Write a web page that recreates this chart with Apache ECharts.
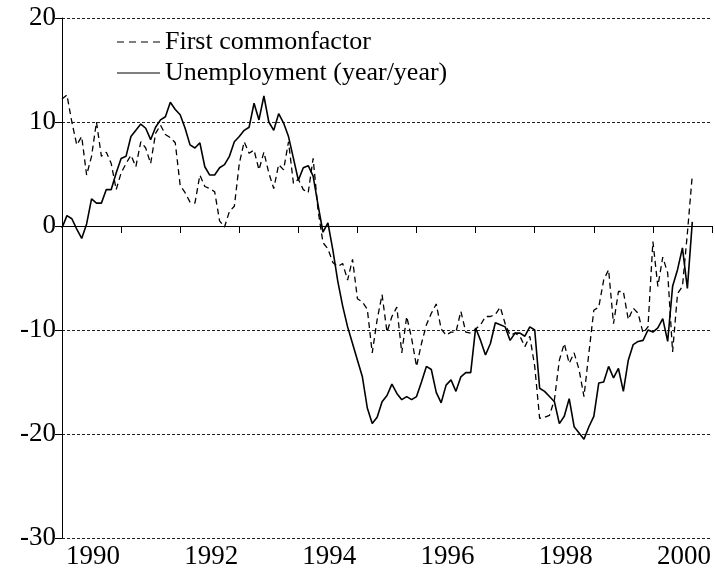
<!DOCTYPE html>
<html>
<head>
<meta charset="utf-8">
<script src="https://cdn.jsdelivr.net/npm/echarts@6/dist/echarts.min.js"></script>
<style>
html,body{margin:0;padding:0;background:#fff;}
#chart{width:715px;height:581px;}
</style>
</head>
<body>
<div id="chart"></div>
<script>
// Monthly observations starting January 1990
var startYear = 1990;
var yTicks = [-30, -20, -10, 0, 10, 20];
var xLabelYears = [1990, 1992, 1994, 1996, 1998, 2000];

var firstCommonFactor = [
  12.2, 12.6, 10.0, 7.8, 8.6, 4.9, 6.7, 10.0, 6.7, 7.1, 6.0, 3.5,
  5.1, 6.0, 6.8, 5.7, 8.1, 7.5, 6.0, 8.9, 9.7, 8.8, 8.5, 8.0,
  3.9, 3.2, 2.3, 2.2, 4.9, 3.8, 3.6, 3.3, 0.5, -0.1, 1.4, 1.9,
  6.0, 8.1, 7.0, 7.3, 5.4, 7.1, 5.1, 3.6, 5.9, 5.4, 8.1, 4.1,
  4.5, 3.5, 3.2, 6.5, 1.5, -1.6, -2.2, -3.5, -3.9, -3.6, -5.2, -3.2,
  -7.0, -7.3, -8.0, -12.2, -9.0, -6.6, -10.2, -8.7, -7.8, -12.2, -8.7, -10.8,
  -13.5, -11.3, -9.5, -8.4, -7.5, -9.9, -10.5, -10.2, -10.2, -8.2, -10.2, -10.3,
  -9.9, -9.5, -8.7, -8.7, -8.5, -7.8, -9.4, -10.5, -10.3, -10.6, -11.6, -10.6,
  -13.5, -18.5, -18.4, -18.2, -16.7, -12.9, -11.3, -13.2, -12.2, -13.8, -16.4, -12.2,
  -8.1, -7.8, -5.2, -4.2, -9.4, -6.3, -6.3, -9.0, -7.9, -8.4, -10.3, -9.7,
  -1.5, -5.8, -3.0, -4.5, -12.1, -6.5, -5.8, -0.7, 4.9
];

var unemploymentYoY = [
  -0.2, 1.0, 0.7, -0.3, -1.2, 0.2, 2.6, 2.2, 2.2, 3.5, 3.5, 5.1,
  6.5, 6.7, 8.6, 9.2, 9.8, 9.4, 8.3, 9.5, 10.2, 10.5, 11.9, 11.2,
  10.7, 9.4, 7.8, 7.5, 8.0, 5.7, 4.9, 4.9, 5.6, 5.9, 6.7, 8.1,
  8.6, 9.2, 9.5, 11.8, 10.2, 12.5, 10.0, 9.2, 10.8, 9.9, 8.6, 6.5,
  4.4, 5.6, 5.8, 4.8, 2.0, -0.6, 0.3, -2.3, -5.3, -7.7, -9.7, -11.3,
  -12.9, -14.5, -17.5, -19.0, -18.4, -16.9, -16.3, -15.2, -16.1, -16.7, -16.4, -16.7,
  -16.4, -15.0, -13.5, -13.8, -16.0, -17.0, -15.3, -14.8, -15.9, -14.5, -14.1, -14.1,
  -9.8, -11.0, -12.4, -11.3, -9.3, -9.5, -9.7, -11.0, -10.3, -10.3, -10.6, -9.7,
  -10.0, -15.6, -15.9, -16.4, -16.9, -19.0, -18.3, -16.6, -19.3, -19.9, -20.5, -19.3,
  -18.3, -15.1, -15.0, -13.5, -14.6, -13.7, -15.9, -12.9, -11.4, -11.1, -11.0, -10.0,
  -10.2, -9.8, -8.9, -11.1, -5.8, -4.2, -2.1, -6.0, 0.4
];

function toPairs(arr) {
  return arr.map(function (v, i) { return [startYear + i / 12, v]; });
}

var FONT = 'Liberation Serif, Times New Roman, serif';
var DASH_ICON = 'path://M0,0h7v1h-7zM12,0h7v1h-7zM24,0h7v1h-7zM36,0h7v1h-7z';
var SOLID_ICON = 'path://M0,0h43v1h-43z';

var chart = echarts.init(document.getElementById('chart'), null, { renderer: 'canvas' });

chart.setOption({
  animation: false,
  backgroundColor: '#fff',
  grid: { left: 62, right: 0, top: 18, bottom: 43, containLabel: false },
  legend: {
    left: 112, top: 24, orient: 'vertical',
    itemWidth: 43, itemHeight: 1.5, itemGap: 5,
    textStyle: { fontFamily: FONT, fontSize: 26, color: '#000' },
    itemStyle: { color: '#000', borderWidth: 0 },
    data: [
      { name: 'First commonfactor', icon: DASH_ICON },
      { name: 'Unemployment (year/year)', icon: SOLID_ICON }
    ]
  },
  xAxis: {
    type: 'value', min: 1990, max: 2001, interval: 1,
    axisLine: { show: true, lineStyle: { color: '#000', width: 1 } },
    axisTick: { show: true, length: 7, lineStyle: { color: '#000' } },
    splitLine: { show: false },
    axisLabel: {
      interval: 0, margin: 5, color: '#000', fontFamily: FONT, fontSize: 27,
      align: 'center', padding: [0, 0, 0, 62],
      formatter: function (v) {
        var y = Math.round(v);
        return xLabelYears.indexOf(y) >= 0 ? String(y) : '';
      }
    }
  },
  yAxis: {
    type: 'value', min: yTicks[0], max: yTicks[yTicks.length - 1], interval: 10,
    axisLine: { show: true, lineStyle: { color: '#000', width: 1 } },
    axisTick: { show: true, length: 7, lineStyle: { color: '#000' } },
    splitLine: { show: true, lineStyle: { color: '#222', width: 1, type: [3, 2] } },
    axisLabel: { margin: 6, color: '#000', fontFamily: FONT, fontSize: 27 }
  },
  series: [
    {
      name: 'First commonfactor', type: 'line', data: toPairs(firstCommonFactor),
      symbol: 'none', lineStyle: { color: '#000', width: 1.3, type: [6, 4] },
      itemStyle: { color: '#000' }
    },
    {
      name: 'Unemployment (year/year)', type: 'line', data: toPairs(unemploymentYoY),
      symbol: 'none', lineStyle: { color: '#000', width: 1.6, type: 'solid' },
      itemStyle: { color: '#000' }
    }
  ]
});
</script>
</body>
</html>
